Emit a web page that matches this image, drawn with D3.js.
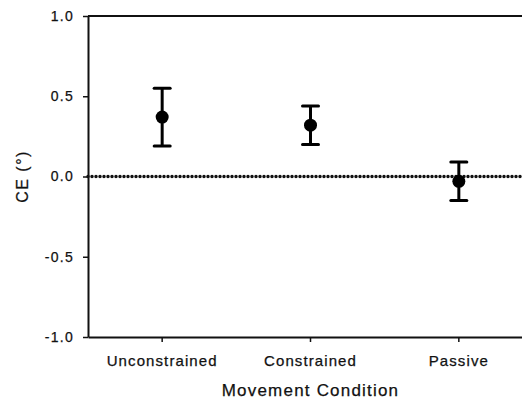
<!DOCTYPE html>
<html>
<head>
<meta charset="utf-8">
<script src="https://cdn.jsdelivr.net/npm/d3@7"></script>
<style>
  body { margin: 0; background: #fff; }
  svg text { font-family: "Liberation Sans", Arial, sans-serif; fill: #111; stroke: #111; stroke-width: 0.25px; }
</style>
</head>
<body>
<div id="chart"></div>
<script>
// data
var conditions = ["Unconstrained", "Constrained", "Passive"];
var meanCE = [0.37, 0.32, -0.03];
var errCE = [0.18, 0.12, 0.12];
var yTicks = [-1.0, -0.5, 0.0, 0.5, 1.0];

var margin = {top: 16, right: -11, bottom: 64, left: 88},
    width = 522 - margin.left - margin.right,
    height = 401 - margin.top - margin.bottom;

var svg = d3.select("#chart")
  .append("svg")
    .attr("width", 522)
    .attr("height", 401)
  .append("g")
    .attr("transform", "translate(" + margin.left + "," + margin.top + ")");

var x = d3.scaleBand()
  .domain(conditions)
  .range([0, width]);

var y = d3.scaleLinear()
  .domain([-1, 1])
  .range([height, 0]);

// top frame line
svg.append("line")
  .attr("x1", 0).attr("x2", width)
  .attr("y1", y(1)).attr("y2", y(1))
  .attr("stroke", "#111").attr("stroke-width", 2);

// x axis
var xAxis = svg.append("g")
  .attr("transform", "translate(0," + height + ")")
  .call(d3.axisBottom(x).tickSize(5).tickSizeOuter(0).tickPadding(13));
xAxis.select(".domain").attr("stroke", "#111").attr("stroke-width", 2);
xAxis.selectAll(".tick line").attr("stroke", "#111").attr("stroke-width", 1.5);
xAxis.selectAll("text")
  .style("font-size", "15px")
  .style("letter-spacing", "1.1px");

// y axis (plain hyphen for negatives, as in the original)
var yAxis = svg.append("g")
  .call(d3.axisLeft(y).tickValues(yTicks)
    .tickFormat(function(d) { return d3.format(".1f")(d).replace("\u2212", "-"); })
    .tickSize(5).tickSizeOuter(0).tickPadding(9));
yAxis.select(".domain").attr("stroke", "#111").attr("stroke-width", 2);
yAxis.selectAll(".tick line").attr("stroke", "#111").attr("stroke-width", 1.5);
yAxis.selectAll("text")
  .style("font-size", "14px")
  .style("letter-spacing", "1.3px");

// dotted zero line
svg.append("line")
  .attr("x1", 0).attr("x2", width)
  .attr("y1", y(0)).attr("y2", y(0))
  .attr("stroke", "#111")
  .attr("stroke-width", 3.5)
  .attr("stroke-linecap", "round")
  .attr("stroke-dasharray", "0,4");

// error bars
var capW = 8;
var bars = svg.append("g")
  .selectAll("g")
  .data(conditions)
  .enter().append("g")
    .attr("transform", function(d) { return "translate(" + (x(d) + x.bandwidth() / 2) + ",0)"; });

bars.append("line")
  .attr("y1", function(d, i) { return y(meanCE[i] + errCE[i]); })
  .attr("y2", function(d, i) { return y(meanCE[i] - errCE[i]); })
  .attr("stroke", "#000").attr("stroke-width", 3);

bars.append("line")
  .attr("x1", -capW).attr("x2", capW)
  .attr("y1", function(d, i) { return y(meanCE[i] + errCE[i]); })
  .attr("y2", function(d, i) { return y(meanCE[i] + errCE[i]); })
  .attr("stroke", "#000").attr("stroke-width", 3).attr("stroke-linecap", "round");

bars.append("line")
  .attr("x1", -capW).attr("x2", capW)
  .attr("y1", function(d, i) { return y(meanCE[i] - errCE[i]); })
  .attr("y2", function(d, i) { return y(meanCE[i] - errCE[i]); })
  .attr("stroke", "#000").attr("stroke-width", 3).attr("stroke-linecap", "round");

bars.append("circle")
  .attr("cy", function(d, i) { return y(meanCE[i]); })
  .attr("r", 6.5)
  .attr("fill", "#000");

// axis titles
svg.append("text")
  .attr("transform", "translate(" + (x("Constrained") + x.bandwidth() / 2) + "," + (height + 59) + ")")
  .style("text-anchor", "middle")
  .style("font-size", "17px")
  .style("letter-spacing", "1.2px")
  .text("Movement Condition");

svg.append("text")
  .attr("transform", "rotate(-90)")
  .attr("x", -y(0))
  .attr("y", -60)
  .style("text-anchor", "middle")
  .style("font-size", "16px")
  .style("letter-spacing", "1.5px")
  .text("CE (°)");
</script>
</body>
</html>
